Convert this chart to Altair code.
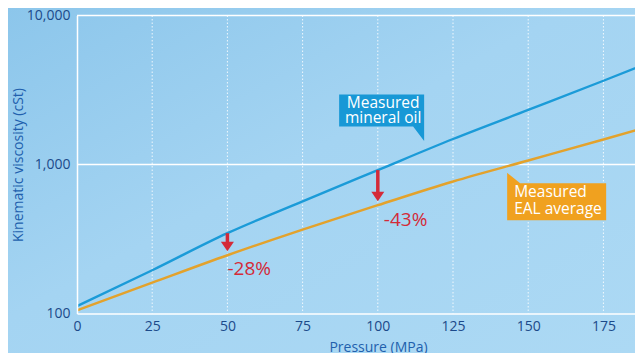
import altair as alt
import pandas as pd
import numpy as np

# ---- data ----
pressure = [0, 25, 50, 75, 100, 125, 150, 175, 188]
mineral_oil = [112, 195, 346, 566, 917, 1483, 2324, 3648, 4634]
eal_average = [105, 161, 246, 366, 533, 769, 1064, 1472, 1745]
series_names = ["Measured mineral oil", "Measured EAL average"]

x_ticks = [0, 25, 50, 75, 100, 125, 150, 175]
y_ticks = [100, 1000, 10000]

drop_at = [50, 100]
drop_labels = ["-28%", "-43%"]

callout_text = ["Measured\nmineral oil", "Measured\nEAL average"]
callout_at = [115.4, 143]

# ---- styles ----
FONT = "Open Sans"
BLUE = "#1b9bd8"
ORANGE = "#e3a22c"
BOX_BLUE = "#1898d6"
BOX_ORANGE = "#f0a11f"
RED = "#d42a38"
NAVY = "#1c4a8a"
TITLEC = "#2160ad"


def interp_log(xq, xs, ys):
    return float(10 ** np.interp(xq, xs, np.log10(ys)))


lines_df = pd.DataFrame({
    "p": pressure * 2,
    "v": mineral_oil + eal_average,
    "s": [series_names[0]] * len(pressure) + [series_names[1]] * len(pressure),
})

arrow_df = pd.DataFrame({
    "p": drop_at,
    "v": [mineral_oil[pressure.index(p)] for p in drop_at],
    "v2": [eal_average[pressure.index(p)] for p in drop_at],
    "label": drop_labels,
})

blue_anchor = pd.DataFrame({
    "p": [callout_at[0]],
    "v": [interp_log(callout_at[0], pressure, mineral_oil)],
    "t": [callout_text[0]],
})
orange_anchor = pd.DataFrame({
    "p": [callout_at[1]],
    "v": [interp_log(callout_at[1], pressure, eal_average)],
    "t": [callout_text[1]],
})

xs = alt.Scale(domain=[0, 185.5], nice=False, zero=False)
ys = alt.Scale(type="log", domain=[100, 10000], nice=False)

xaxis = alt.Axis(values=x_ticks, grid=False, ticks=False, domain=True,
                 domainColor="white", domainWidth=1.5,
                 labelColor=NAVY, labelFont=FONT, labelFontSize=14,
                 labelPadding=6, labelFlush=False,
                 title="Pressure (MPa)", titleColor=TITLEC, titleFont=FONT,
                 titleFontSize=14, titleFontWeight="normal", titlePadding=7,
                 titleX=301, zindex=1)
yaxis = alt.Axis(values=y_ticks, format=",", grid=False, ticks=False, domain=True,
                 domainColor="white", domainWidth=1.5,
                 labelColor=NAVY, labelFont=FONT, labelFontSize=14,
                 labelPadding=7, labelFlush=False,
                 title="Kinematic viscosity (cSt)", titleColor=TITLEC, titleFont=FONT,
                 titleFontSize=14, titleFontWeight="normal", titlePadding=1,
                 zindex=1)

X = alt.X("p:Q", scale=xs, axis=xaxis)
Y = alt.Y("v:Q", scale=ys, axis=yaxis)
Y2v = alt.Y("v2:Q", scale=ys, axis=yaxis)

bg = alt.Chart(pd.DataFrame({"a": [0]})).mark_rect(
    clip=False,
    color={"gradient": "linear", "x1": 0, "y1": 0, "x2": 1, "y2": 1,
           "stops": [{"offset": 0, "color": "#8cc6eb"},
                     {"offset": 0.45, "color": "#a4d4f2"},
                     {"offset": 1, "color": "#acd9f4"}]},
).encode(x=alt.value(-69), x2=alt.value(558), y=alt.value(-7.5), y2=alt.value(337.5))

vgrid = alt.Chart(pd.DataFrame({"p": x_ticks[1:]})).mark_rule(
    color="white", strokeWidth=1, strokeDash=[1.5, 2], opacity=0.85
).encode(x=X)

hgrid = alt.Chart(pd.DataFrame({"v": y_ticks[1:]})).mark_rule(
    color="white", strokeWidth=1.3
).encode(y=Y)

lines = alt.Chart(lines_df).mark_line(clip=True, strokeWidth=2.4, interpolate="monotone").encode(
    x=X, y=Y,
    color=alt.Color("s:N", scale=alt.Scale(domain=series_names, range=[BLUE, ORANGE]), legend=None),
)

shaft = alt.Chart(arrow_df).mark_rule(color=RED, strokeWidth=3.5, y2Offset=-11).encode(
    x=X, y=Y, y2="v2:Q"
)
head = alt.Chart(arrow_df).mark_point(
    shape="M-6.5,-13.5 L6.5,-13.5 L0,-4 Z", size=4, filled=True, fill=RED,
    opacity=1, strokeWidth=0
).encode(x=X, y=Y2v)

lab1 = alt.Chart(arrow_df).transform_filter(alt.datum.p == drop_at[0]).mark_text(
    align="left", baseline="middle", dx=0, dy=14, fontSize=19, font=FONT, color=RED
).encode(x=X, y=Y2v, text="label:N")
lab2 = alt.Chart(arrow_df).transform_filter(alt.datum.p == drop_at[1]).mark_text(
    align="left", baseline="middle", dx=6, dy=15, fontSize=19, font=FONT, color=RED
).encode(x=X, y=Y2v, text="label:N")

blue_box = alt.Chart(blue_anchor).mark_point(
    shape="M-85,-56.5 L0,-56.5 L0,-10 L-11,-24.5 L-85,-24.5 Z", size=4, filled=True,
    fill=BOX_BLUE, opacity=1, strokeWidth=0
).encode(x=X, y=Y)
blue_txt = alt.Chart(blue_anchor).mark_text(
    align="center", baseline="alphabetic", dx=-41, dy=-42.5, lineBreak="\n",
    lineHeight=15, fontSize=15.5, font=FONT, color="white"
).encode(x=X, y=Y, text="t:N")

orange_box = alt.Chart(orange_anchor).mark_point(
    shape="M0,6.5 L13,17 L99,17 L99,54 L0,54 Z", size=4, filled=True,
    fill=BOX_ORANGE, opacity=1, strokeWidth=0
).encode(x=X, y=Y)
orange_txt = alt.Chart(orange_anchor).mark_text(
    align="left", baseline="alphabetic", dx=7, dy=31, lineBreak="\n",
    lineHeight=16.7, fontSize=15.5, font=FONT, color="white"
).encode(x=X, y=Y, text="t:N")

chart = alt.layer(
    bg, vgrid, hgrid, lines, shaft, head, lab1, lab2,
    blue_box, blue_txt, orange_box, orange_txt
).properties(
    width=558, height=298,
    autosize=alt.AutoSizeParams(type="none"),
    padding={"left": 69, "top": 7.5, "right": 0, "bottom": 39.5},
    background="#a6d5f2",
).configure_view(stroke=None)

chart.save("out.html", embed_options={"renderer": "svg", "actions": False})
